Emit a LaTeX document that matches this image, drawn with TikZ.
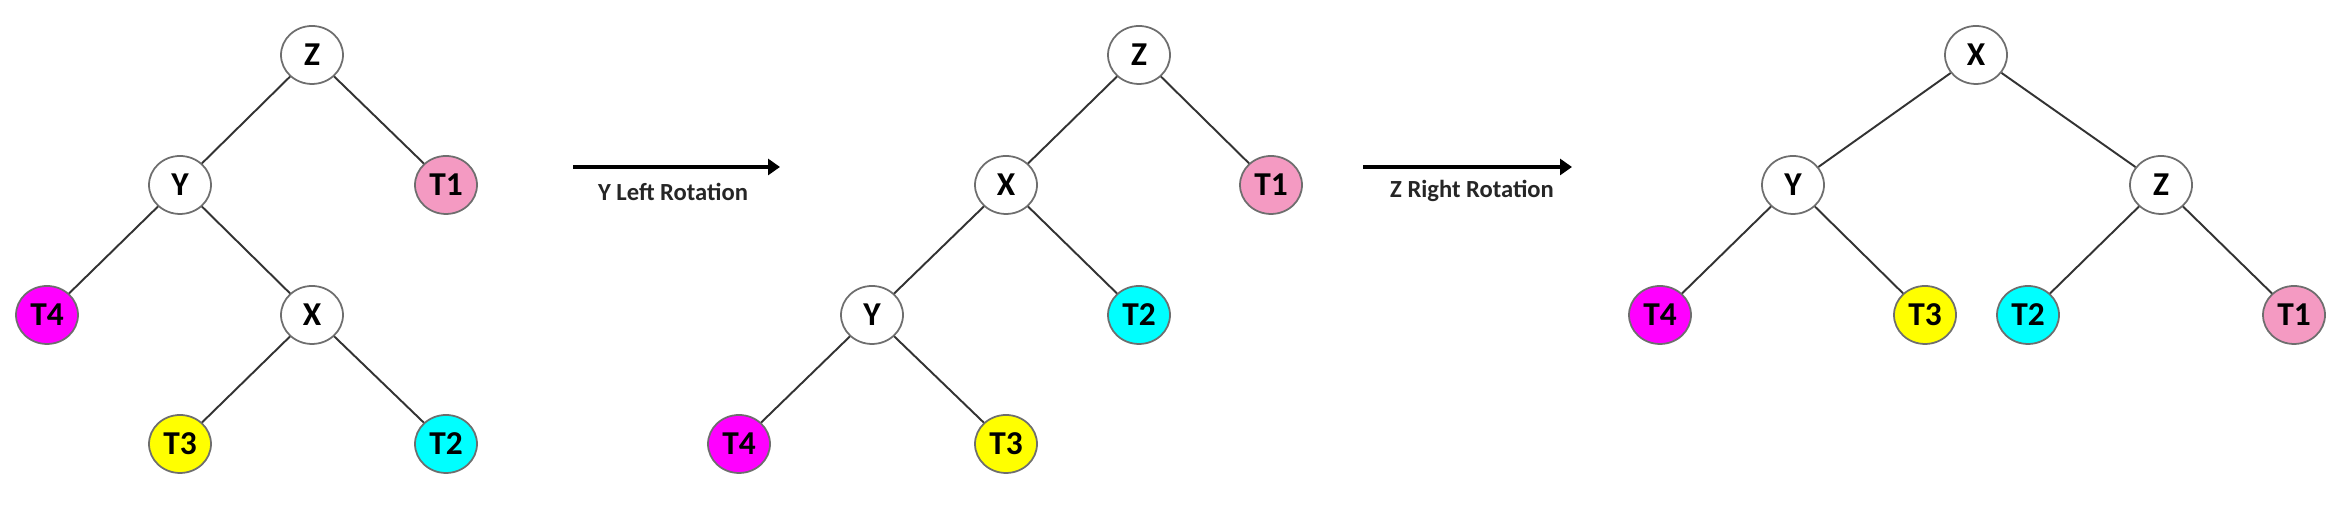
\documentclass[tikz,border=0pt]{standalone}
\usepackage{fontspec}
\setmainfont{Carlito}
\usetikzlibrary{shapes.geometric,arrows.meta}

\definecolor{tpink}{HTML}{F49AC2}
\definecolor{tcyan}{HTML}{00FFFF}
\definecolor{tyellow}{HTML}{FFFF00}
\definecolor{tmagenta}{HTML}{FF00FF}
\definecolor{rim}{HTML}{6E6E6E}
\definecolor{branch}{HTML}{333333}

\begin{document}
\begin{tikzpicture}[
    tnode/.style={ellipse,draw=rim,line width=0.5pt,minimum width=0.62cm,minimum height=0.58cm,
        inner sep=0pt,font=\fontsize{9.5}{11}\selectfont\bfseries},
    branchline/.style={draw=branch,line width=0.55pt},
    rotarrow/.style={line width=0.9pt,-{Triangle[length=0.12cm,width=0.16cm]}},
    rotlabel/.style={font=\fontsize{7}{8}\selectfont\bfseries,text=black!85}]
    \useasboundingbox (0,0) rectangle (23.46,5.06);

    % Unbalanced tree
    \foreach \nm/\lab/\pos/\col in {
    aZ/Z/{(3.12,4.51)}/white,
    aY/Y/{(1.80,3.21)}/white,
    aT1/T1/{(4.46,3.21)}/tpink,
    aT4/T4/{(0.47,1.91)}/tmagenta,
    aX/X/{(3.12,1.91)}/white,
    aT3/T3/{(1.80,0.62)}/tyellow,
    aT2/T2/{(4.46,0.62)}/tcyan} {
    \node [tnode,fill=\col] (\nm) at \pos {\lab};
    }
    \foreach \a/\b in {aZ/aY, aZ/aT1, aY/aT4, aY/aX, aX/aT3, aX/aT2} {
    \draw [branchline] (\a) -- (\b);
    }

    % After the left rotation
    \foreach \nm/\lab/\pos/\col in {
    bZ/Z/{(11.39,4.51)}/white,
    bX/X/{(10.06,3.21)}/white,
    bT1/T1/{(12.71,3.21)}/tpink,
    bY/Y/{(8.72,1.91)}/white,
    bT2/T2/{(11.39,1.91)}/tcyan,
    bT4/T4/{(7.39,0.62)}/tmagenta,
    bT3/T3/{(10.06,0.62)}/tyellow} {
    \node [tnode,fill=\col] (\nm) at \pos {\lab};
    }
    \foreach \a/\b in {bZ/bX, bZ/bT1, bX/bY, bX/bT2, bY/bT4, bY/bT3} {
    \draw [branchline] (\a) -- (\b);
    }

    % Balanced tree
    \foreach \nm/\lab/\pos/\col in {
    cX/X/{(19.76,4.51)}/white,
    cY/Y/{(17.93,3.21)}/white,
    cZ/Z/{(21.61,3.21)}/white,
    cT4/T4/{(16.60,1.91)}/tmagenta,
    cT3/T3/{(19.25,1.91)}/tyellow,
    cT2/T2/{(20.28,1.91)}/tcyan,
    cT1/T1/{(22.94,1.91)}/tpink} {
    \node [tnode,fill=\col] (\nm) at \pos {\lab};
    }
    \foreach \a/\b in {cX/cY, cX/cZ, cY/cT4, cY/cT3, cZ/cT2, cZ/cT1} {
    \draw [branchline] (\a) -- (\b);
    }

    % Rotation arrows
    \coordinate (r1s) at (5.73,3.39);
    \coordinate (r1e) at (7.80,3.39);
    \coordinate (r2s) at (13.63,3.39);
    \coordinate (r2e) at (15.72,3.39);
    \draw [rotarrow] (r1s) -- (r1e);
    \draw [rotarrow] (r2s) -- (r2e);
    \node [rotlabel] (r1lab) at (6.73,3.14) {Y Left Rotation};
    \node [rotlabel] (r2lab) at (14.72,3.15) {Z Right Rotation};
\end{tikzpicture}
\end{document}
